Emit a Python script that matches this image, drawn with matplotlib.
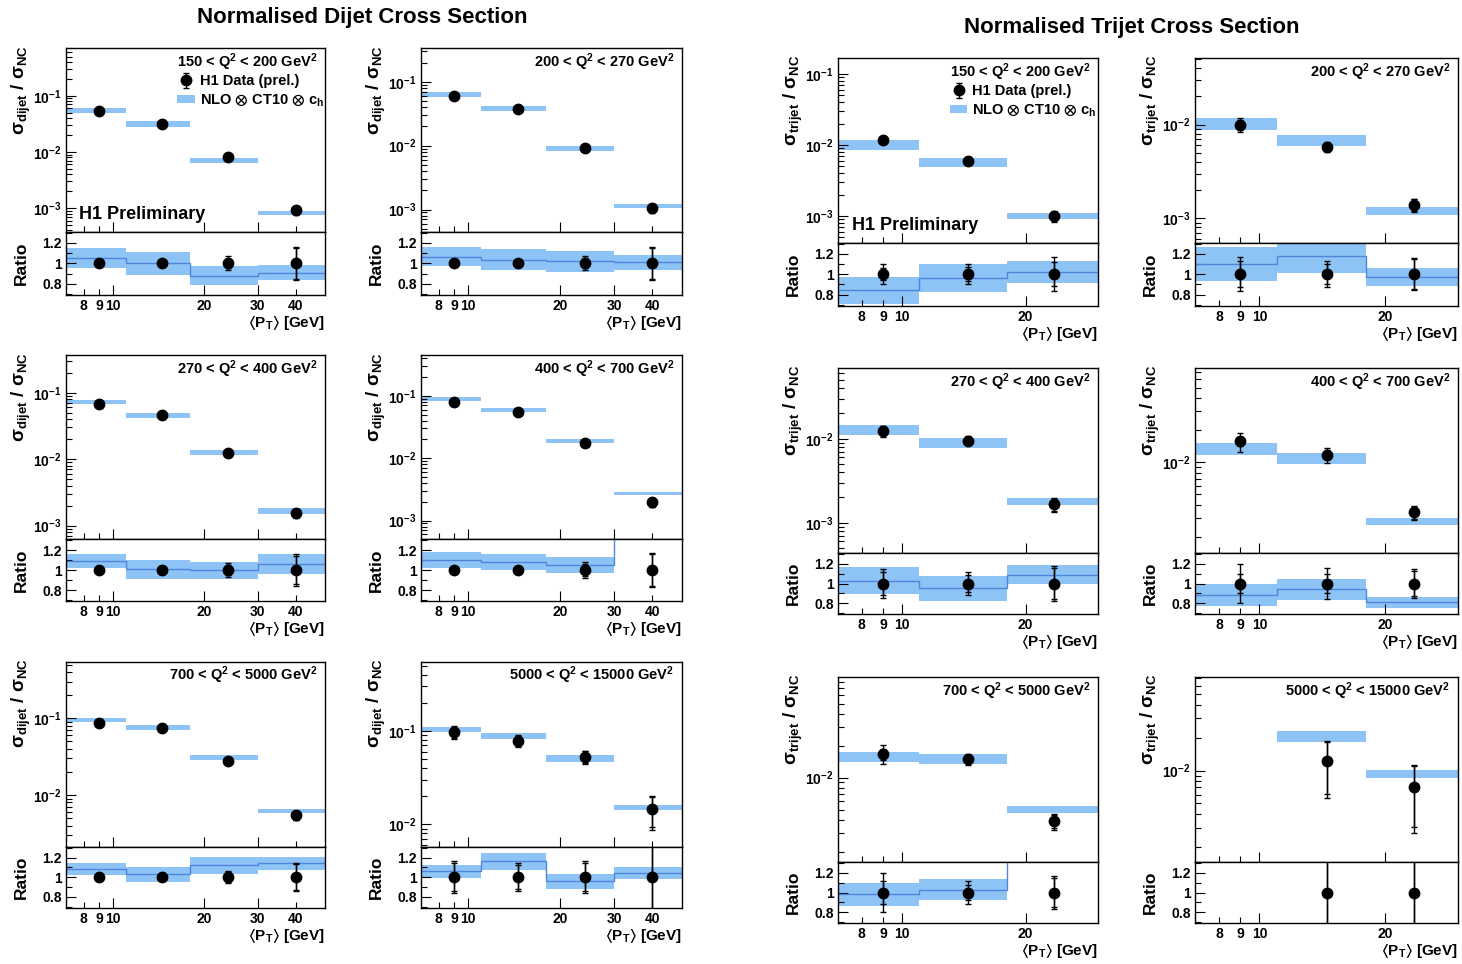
import numpy as np
import matplotlib
matplotlib.use("Agg")
import matplotlib.pyplot as plt
from matplotlib.ticker import FixedLocator, FuncFormatter, NullFormatter
from matplotlib.patches import Patch

plt.rcParams.update({
    "font.family": ["Liberation Sans", "DejaVu Sans"],
    "font.weight": "bold",
    "mathtext.fontset": "custom",
    "mathtext.rm": "Liberation Sans:bold",
    "mathtext.bf": "Liberation Sans:bold",
    "mathtext.it": "Liberation Sans:bold:italic",
    "mathtext.sf": "Liberation Sans:bold",
    "mathtext.default": "bf",
    "mathtext.fallback": "stixsans",
    "axes.linewidth": 1.0,
})

nan = np.nan

# ---------------- dijet measurement ----------------
dijet_edges = [7, 11, 18, 30, 50]
dijet_pt = [9.0, 14.5, 24.0, 40.0]
dijet_q2 = [(150, 200), (200, 270), (270, 400), (400, 700), (700, 5000), (5000, 15000)]

dijet_data = [
    [0.0525, 0.032, 0.0081, 0.00091],
    [0.0597, 0.0373, 0.0091, 0.00107],
    [0.067, 0.046, 0.0125, 0.00154],
    [0.078, 0.054, 0.0178, 0.00197],
    [0.088, 0.074, 0.028, 0.0055],
    [0.097, 0.079, 0.053, 0.0145],
]
dijet_nlo = [
    [0.055, 0.0315, 0.0071, 0.00083],
    [0.064, 0.0383, 0.0091, 0.00114],
    [0.0718, 0.046, 0.0126, 0.00165],
    [0.0875, 0.0597, 0.0187, 0.0027],
    [0.095, 0.077, 0.031, 0.0062],
    [0.104, 0.089, 0.051, 0.0151],
]
dijet_ratio = [
    [1.05, 1.00, 0.88, 0.91],
    [1.065, 1.035, 1.02, 1.01],
    [1.09, 1.01, 1.00, 1.06],
    [1.10, 1.08, 1.05, 1.40],
    [1.08, 1.03, 1.12, 1.14],
    [1.06, 1.16, 0.96, 1.04],
]
dijet_unc = [
    [0.095, 0.11, 0.105, 0.08],
    [0.085, 0.10, 0.10, 0.075],
    [0.065, 0.095, 0.085, 0.095],
    [0.075, 0.075, 0.075, 0.05],
    [0.055, 0.075, 0.08, 0.06],
    [0.062, 0.077, 0.08, 0.06],
]
dijet_stat = [
    [0.012, 0.012, 0.045, 0.15],
    [0.012, 0.012, 0.05, 0.15],
    [0.012, 0.025, 0.05, 0.14],
    [0.012, 0.012, 0.06, 0.16],
    [0.02, 0.02, 0.05, 0.13],
    [0.14, 0.12, 0.14, 0.36],
]
dijet_tot = [
    [0.02, 0.02, 0.07, 0.16],
    [0.02, 0.02, 0.07, 0.16],
    [0.02, 0.035, 0.07, 0.16],
    [0.02, 0.02, 0.08, 0.17],
    [0.03, 0.03, 0.06, 0.14],
    [0.16, 0.14, 0.16, 0.40],
]

# ---------------- trijet measurement ----------------
trijet_edges = [7, 11, 18, 30]
trijet_pt = [9.0, 14.5, 23.5]
trijet_q2 = dijet_q2

trijet_data = [
    [0.0117, 0.0060, 0.0010],
    [0.0100, 0.0058, 0.0014],
    [0.0125, 0.0095, 0.00165],
    [0.0157, 0.0118, 0.0034],
    [0.0168, 0.0149, 0.0039],
    [nan, 0.0122, 0.0070],
]
trijet_nlo = [
    [0.0100, 0.0058, 0.0010],
    [0.0103, 0.0068, 0.0012],
    [0.0128, 0.0090, 0.0018],
    [0.0135, 0.0109, 0.0028],
    [0.0158, 0.0150, 0.0050],
    [nan, 0.0207, 0.0094],
]
trijet_ratio = [
    [0.84, 0.96, 1.02],
    [1.10, 1.18, 0.97],
    [1.03, 0.95, 1.09],
    [0.88, 0.94, 0.81],
    [0.98, 1.03, 1.45],
    [nan, 1.70, 1.50],
]
trijet_unc = [
    [0.16, 0.145, 0.105],
    [0.15, 0.14, 0.09],
    [0.135, 0.13, 0.085],
    [0.125, 0.115, 0.07],
    [0.115, 0.105, 0.08],
    [nan, 0.11, 0.085],
]
trijet_stat = [
    [0.06, 0.07, 0.12],
    [0.13, 0.10, 0.15],
    [0.12, 0.09, 0.16],
    [0.10, 0.10, 0.13],
    [0.12, 0.08, 0.15],
    [nan, 0.50, 0.57],
]
trijet_tot = [
    [0.10, 0.10, 0.17],
    [0.17, 0.13, 0.16],
    [0.15, 0.12, 0.18],
    [0.20, 0.16, 0.15],
    [0.20, 0.12, 0.17],
    [nan, 0.54, 0.62],
]

# ---------------- layout (pixels) ----------------
BAND = "#8dc3f5"
LINE = "#4f86dc"
W, H = 1462, 964

dijet_cols = [(66, 325), (421, 682)]
dijet_rows = [(48.3, 231.7, 295.0), (355.0, 539.3, 601.0), (661.7, 846.7, 907.7)]
trijet_cols = [(838, 1098), (1195, 1458)]
trijet_rows = [(58.3, 242.7, 305.7), (368.3, 552.7, 614.3), (677.0, 862.0, 923.0)]

dijet_ylim = [(3.8e-4, 0.70), (4.5e-4, 0.335), (6.2e-4, 0.37),
              (5.0e-4, 0.45), (2.12e-3, 0.547), (5.75e-3, 0.553)]
trijet_ylim = [(4.2e-4, 0.166), (5.5e-4, 0.051), (4.4e-4, 0.069),
               (1.42e-3, 0.076), (1.6e-3, 0.089), (1.45e-3, 0.072)]

fig = plt.figure(figsize=(W / 100, H / 100), dpi=100)


def axes_px(x0, x1, y0, y1):
    return fig.add_axes([x0 / W, 1 - y1 / H, (x1 - x0) / W, (y1 - y0) / H])


def decade_label(v, pos):
    return r"$10^{%d}$" % int(round(np.log10(v)))


def plain_label(v, pos):
    return "%g" % v


DECADES = [10.0 ** e for e in range(-5, 1)]
SUBDEC = [m * 10.0 ** e for e in range(-5, 1) for m in range(2, 10)]


def style(ax):
    ax.tick_params(which="both", direction="in", top=False, right=False,
                   width=0.8, labelsize=10, pad=3)
    ax.tick_params(which="major", length=7)
    ax.tick_params(which="minor", length=4)


def draw_panel(cols, rows, i, edges, pt, data, nlo, ratio, unc, stat, tot,
               ylim, xmajor, xminor, q2, ylabel, first):
    col, row = cols[i % 2], rows[i // 2]
    ax_m = axes_px(col[0], col[1], row[0], row[1])
    ax_r = axes_px(col[0], col[1], row[1], row[2])
    edges = np.asarray(edges, float)
    pt = np.asarray(pt, float)
    data, nlo, ratio = (np.asarray(a, float) for a in (data, nlo, ratio))
    unc, stat, tot = (np.asarray(a, float) for a in (unc, stat, tot))

    # NLO prediction bands
    for k in range(len(pt)):
        if np.isnan(nlo[k]):
            continue
        xs = [edges[k], edges[k + 1]]
        ax_m.fill_between(xs, nlo[k] * (1 - unc[k]), nlo[k] * (1 + unc[k]),
                          color=BAND, lw=0, zorder=1)
        ax_r.fill_between(xs, ratio[k] * (1 - unc[k]), ratio[k] * (1 + unc[k]),
                          color=BAND, lw=0, zorder=1)
    ok = np.where(~np.isnan(ratio))[0]
    ax_r.stairs(ratio[ok], edges[ok[0]:ok[-1] + 2], baseline=None,
                color=LINE, lw=1.0, zorder=2)

    # measured points
    eb = ax_m.errorbar(pt, data, yerr=data * tot, fmt="o", color="k", ms=7.5,
                       elinewidth=1, capsize=2.5, capthick=1, zorder=3)
    ax_m.errorbar(pt, data, yerr=data * stat, fmt="none", ecolor="k",
                  elinewidth=1, capsize=2, capthick=1, zorder=3)
    one = np.where(np.isnan(data), np.nan, 1.0)
    ax_r.errorbar(pt, one, yerr=tot, fmt="o", color="k", ms=7.5,
                  elinewidth=1, capsize=2.5, capthick=1, zorder=3)
    ax_r.errorbar(pt, one, yerr=stat, fmt="none", ecolor="k",
                  elinewidth=1, capsize=2, capthick=1, zorder=3)

    for ax in (ax_m, ax_r):
        ax.set_xscale("log")
        ax.set_xlim(edges[0], edges[-1])
        ax.xaxis.set_major_locator(FixedLocator(xmajor))
        ax.xaxis.set_minor_locator(FixedLocator(xminor))
        style(ax)
    ax_m.xaxis.set_major_formatter(NullFormatter())
    ax_m.xaxis.set_minor_formatter(NullFormatter())
    ax_r.xaxis.set_major_formatter(FuncFormatter(plain_label))
    ax_r.xaxis.set_minor_formatter(FuncFormatter(plain_label))

    ax_m.set_yscale("log")
    ax_m.set_ylim(*ylim)
    ax_m.yaxis.set_major_locator(FixedLocator(DECADES))
    ax_m.yaxis.set_minor_locator(FixedLocator(SUBDEC))
    ax_m.yaxis.set_major_formatter(FuncFormatter(decade_label))
    ax_m.yaxis.set_minor_formatter(NullFormatter())

    ax_r.set_ylim(0.69, 1.31)
    ax_r.yaxis.set_major_locator(FixedLocator([0.8, 1.0, 1.2]))
    ax_r.yaxis.set_minor_locator(FixedLocator([0.7, 0.9, 1.1, 1.3]))
    ax_r.yaxis.set_major_formatter(FuncFormatter(plain_label))

    lo, hi = q2
    ax_m.text(0.97, 0.925, "%d < Q$^{2}$ < %d GeV$^{2}$" % (lo, hi),
              transform=ax_m.transAxes, ha="right", va="center", fontsize=10.5)

    # axis titles
    x_lab = col[0] - 45
    fig.text(x_lab / W, 1 - (row[0] - 3) / H, ylabel, rotation=90,
             ha="center", va="top", fontsize=13.5)
    fig.text(x_lab / W, 1 - (row[1] + row[2]) / 2 / H, "Ratio", rotation=90,
             ha="center", va="center", fontsize=12.5)
    fig.text(col[1] / W, 1 - (row[2] + 19) / H, r"$\langle\mathrm{P_T}\rangle$ [GeV]",
             ha="right", va="top", fontsize=11)

    if first:
        ax_m.legend([eb, Patch(facecolor=BAND, edgecolor="none")],
                    ["H1 Data (prel.)", r"NLO $\otimes$ CT10 $\otimes$ $c_h$"],
                    loc="upper left", bbox_to_anchor=(0.43, 0.86), frameon=False,
                    prop={"weight": "bold", "size": 10.5}, handlelength=1.2,
                    handleheight=0.5, handletextpad=0.35, labelspacing=0.3,
                    borderpad=0, borderaxespad=0)
        ax_m.text(0.052, 0.095, "H1 Preliminary", transform=ax_m.transAxes,
                  ha="left", va="center", fontsize=13)


for i in range(6):
    draw_panel(dijet_cols, dijet_rows, i, dijet_edges, dijet_pt,
               dijet_data[i], dijet_nlo[i], dijet_ratio[i], dijet_unc[i],
               dijet_stat[i], dijet_tot[i], dijet_ylim[i],
               [10, 20, 30], [8, 9, 40], dijet_q2[i],
               r"$\sigma_{dijet}$ / $\sigma_{NC}$", i == 0)
    draw_panel(trijet_cols, trijet_rows, i, trijet_edges, trijet_pt,
               trijet_data[i], trijet_nlo[i], trijet_ratio[i], trijet_unc[i],
               trijet_stat[i], trijet_tot[i], trijet_ylim[i],
               [10, 20], [8, 9], trijet_q2[i],
               r"$\sigma_{trijet}$ / $\sigma_{NC}$", i == 0)

fig.text(362 / W, 1 - 17 / H, "Normalised Dijet Cross Section",
         ha="center", va="center", fontsize=16)
fig.text(1132 / W, 1 - 28 / H, "Normalised Trijet Cross Section",
         ha="center", va="center", fontsize=16)

fig.savefig("out.png", dpi=100)
